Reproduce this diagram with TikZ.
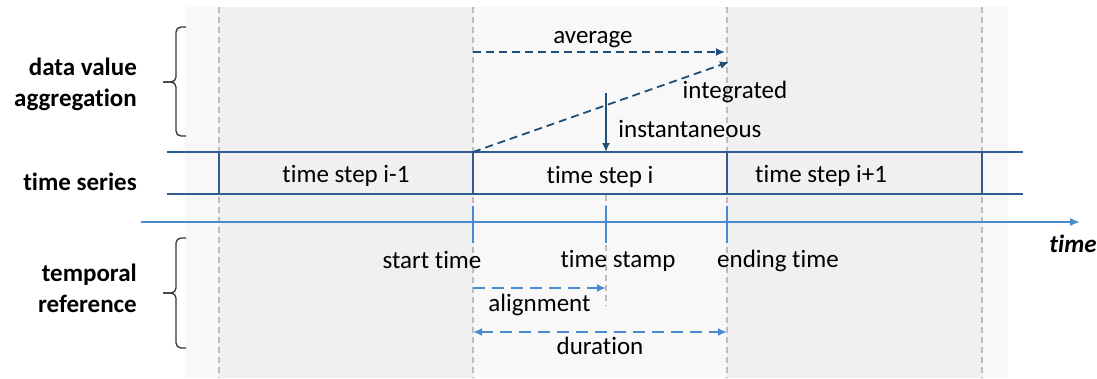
\documentclass[tikz,border=0pt]{standalone}
\usepackage{fontspec}
\setmainfont{Carlito}[Ligatures=CommonOff]
\usetikzlibrary{arrows.meta,positioning}
\definecolor{bgpale}{HTML}{F8F8F8}
\definecolor{bgcell}{HTML}{F0F0F0}
\definecolor{gridgray}{HTML}{BDBDBD}
\definecolor{serblue}{HTML}{2F5D92}
\definecolor{aggblue}{HTML}{1F4E79}
\definecolor{refblue}{HTML}{4A8BD0}
\tikzstyle{lbl} = [font=\fontsize{25}{31}\selectfont,inner sep=0pt]
\tikzstyle{head} = [font=\fontsize{25}{31}\selectfont\bfseries,inner sep=0pt,align=right,anchor=east]
\tikzstyle{vgrid} = [draw=gridgray,line width=1.2pt,dash pattern=on 6pt off 4pt]
\tikzstyle{cell} = [draw=serblue,line width=1.6pt,rectangle,minimum height=42pt,inner sep=0pt,outer sep=0pt]
\tikzstyle{agg} = [draw=aggblue,line width=1.8pt,dash pattern=on 8pt off 5pt,-{Latex[length=9pt,width=8pt]}]
\tikzstyle{ref} = [draw=refblue,line width=1.8pt,dash pattern=on 12pt off 7pt,-{Latex[length=9pt,width=8pt]}]
\tikzstyle{brk} = [draw=black!80,line width=1.3pt,rounded corners=5pt]

\begin{document}
\begin{tikzpicture}[x=1pt,y=-1pt]
      \useasboundingbox (0,0) rectangle (1097,378);
      % background columns
      \fill[bgpale] (185,7) rectangle (1008,378);
      \fill[bgcell] (219,7) rectangle (473,378);
      \fill[bgcell] (727,7) rectangle (982,378);
      \foreach \x in {219,473,727,982} \draw[vgrid] (\x,7) -- (\x,378);
      \draw[vgrid] (606,195) -- (606,306);
      % time series
      \node[cell,minimum width=254pt] (c0) at (346,173) {};
      \node[cell,minimum width=254pt] (c1) at (600,173) {};
      \node[cell,minimum width=255pt] (c2) at (854.5,173) {};
      \draw[serblue,line width=1.6pt] (167,152) -- (1023,152);
      \draw[serblue,line width=1.6pt] (167,194) -- (1023,194);
      \node[lbl] (s0) at ([yshift=-3pt]c0.center) {time step i-1};
      \node[lbl] (s1) at ([yshift=-4pt]c1.center) {time step i};
      \node[lbl,anchor=west] (s2) at ([xshift=28pt,yshift=-3pt]c2.west) {time step i+1};
      % time axis
      \coordinate (ax0) at (141,222);
      \coordinate (ax1) at (1080,222);
      \draw[refblue,line width=1.6pt,-{Latex[length=10pt,width=8pt]}] (ax0) -- (ax1);
      \node[lbl,font=\fontsize{25}{31}\selectfont\bfseries\itshape] (tm) at (1073,244) {time};
      \coordinate (st) at (473,222);
      \coordinate (ts) at (606,222);
      \coordinate (et) at (727,222);
      \foreach \t in {st,ts,et} \draw[refblue,line width=1.6pt] ([yshift=16pt]\t) -- ([yshift=-21pt]\t);
      \node[lbl] (stl) at (432,260) {start time};
      \node[lbl] (tsl) at (618,261) {time stamp};
      \node[lbl] (etl) at (778,261) {ending time};
      % temporal reference arrows
      \draw[ref] ([yshift=-66pt]st) -- ([yshift=-66pt]ts) node[lbl,midway,below=5pt] (al) {alignment};
      \draw[ref,{Latex[length=9pt,width=8pt]}-{Latex[length=9pt,width=8pt]}] ([yshift=-110pt]st) -- ([yshift=-110pt]et) node[lbl,midway,below=4pt] (du) {duration};
      % data value aggregation arrows
      \draw[agg] (473,52) -- (725,52) node[lbl,midway,above=3pt,xshift=-6pt] (av) {average};
      \draw[agg] (c1.north west) -- (729,62);
      \node[lbl] (ig) at (735,92) {integrated};
      \draw[aggblue,line width=1.8pt,-{Latex[length=9pt,width=8pt]}] (606,93) -- ([xshift=6pt]c1.north);
      \node[lbl] (in) at (690,129) {instantaneous};
      % row headers and braces
      \node[head] (hagg) at (137,84) {data value\\aggregation};
      \node[head] (hser) at (137,182) {time series};
      \node[head] (href) at (137,288) {temporal\\reference};
      \draw[brk] (186,27) -- (176,27) -- (176,82) -- (163,82);
      \draw[brk] (163,82) -- (176,82) -- (176,136) -- (186,136);
      \draw[brk] (186,238) -- (176,238) -- (176,293) -- (163,293);
      \draw[brk] (163,293) -- (176,293) -- (176,348) -- (186,348);
    \end{tikzpicture}
\end{document}
